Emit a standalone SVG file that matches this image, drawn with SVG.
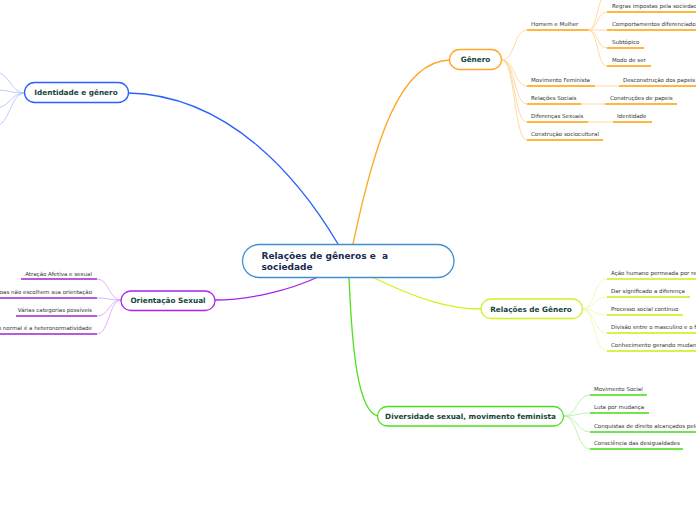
<svg xmlns="http://www.w3.org/2000/svg" width="696" height="520" viewBox="0 0 696 520">
<style>
text{font-family:"DejaVu Sans",Verdana,sans-serif}
.n{fill:#fff;stroke-width:1.3}
.nt{font-size:7.3px;font-weight:bold;fill:#16463a;text-anchor:middle}
.ct{font-size:9px;font-weight:bold;fill:#1a2a50}
.t{font-size:5.5px;fill:#333}
.te{font-size:5.5px;fill:#333;text-anchor:end}
.c{fill:none;stroke-width:1.3}
.f{fill:none;stroke-width:0.8}
.u{fill:none;stroke-width:1.6}
.blue{stroke:#2962ff}.bl{stroke:#a9bfff}
.or{stroke:#ffa726}.ol{stroke:#ffd08a}.ou{stroke:#ffa000}
.pu{stroke:#aa22ee}.pl{stroke:#d9a0f8}.pw{stroke:#9c27d0}
.ye{stroke:#d4f01e}.yl{stroke:#ecf8a8}.yu{stroke:#ccee11}
.gr{stroke:#4ce01a}.gl{stroke:#aef098}.gu{stroke:#44dd11}
</style>
<g id="connectors">
<path class="c blue" d="M128,93 C230,95 300,180 338,244"/>
<path class="c or" d="M353,244 C375,140 400,61 450,60"/>
<path class="c pu" d="M318,277 C290,290 250,300 215,300"/>
<path class="c ye" d="M372,277 C420,300 450,309 481,309"/>
<path class="c gr" d="M349,277 C352,350 358,412 378,416"/>
<!-- Identidade children -->
<path class="f bl" d="M25,93 C10,93 10,72 -5,72"/>
<path class="f bl" d="M25,93 C10,93 10,90 -5,90"/>
<path class="f bl" d="M25,93 C10,93 10,108 -5,108"/>
<path class="f bl" d="M25,93 C10,93 10,126 -5,126"/>
<!-- Genero children -->
<path class="f ol" d="M502,60 C515,60 514,30 527,30"/>
<path class="f ol" d="M502,60 C515,60 514,86 527,86"/>
<path class="f ol" d="M502,60 C515,60 514,104 527,104"/>
<path class="f ol" d="M502,60 C515,60 514,122 527,122"/>
<path class="f ol" d="M502,60 C515,60 514,140 527,140"/>
<path class="f ol" d="M588,30 C598,30 597,-6 607,-6"/>
<path class="f ol" d="M588,30 C598,30 597,12 607,12"/>
<path class="f ol" d="M588,30 L607,30"/>
<path class="f ol" d="M588,30 C598,30 597,48 607,48"/>
<path class="f ol" d="M588,30 C598,30 597,66 607,66"/>
<path class="f ol" d="M595,86 L619,86"/>
<path class="f ol" d="M581,104 L605,104"/>
<path class="f ol" d="M588,122 L613,122"/>
<!-- Orientacao children -->
<path class="f pl" d="M121,300 C109,300 109,279 97,279"/>
<path class="f pl" d="M121,300 C109,300 109,298 97,298"/>
<path class="f pl" d="M121,300 C109,300 109,316 97,316"/>
<path class="f pl" d="M121,300 C109,300 109,334 97,334"/>
<!-- Relacoes de Genero children -->
<path class="f yl" d="M582,309 C595,309 594,279 607,279"/>
<path class="f yl" d="M582,309 C595,309 594,297 607,297"/>
<path class="f yl" d="M582,309 C595,309 594,315 607,315"/>
<path class="f yl" d="M582,309 C595,309 594,333 607,333"/>
<path class="f yl" d="M582,309 C595,309 594,351 607,351"/>
<!-- Diversidade children -->
<path class="f gl" d="M564,416 C577,416 577,395 590,395"/>
<path class="f gl" d="M564,416 C577,416 577,413 590,413"/>
<path class="f gl" d="M564,416 C577,416 577,432 590,432"/>
<path class="f gl" d="M564,416 C577,416 577,449 590,449"/>
</g>
<g id="center">
<rect class="n" x="242.5" y="244.5" width="211.5" height="33" rx="16.5" style="stroke:#3d8fd1"/>
<text class="ct" x="261.5" y="259" xml:space="preserve">Relações de gêneros e  a</text>
<text class="ct" x="261.5" y="269.5">sociedade</text>
</g>
<g id="identidade">
<rect class="n blue" x="24.5" y="82.5" width="104" height="20" rx="10"/>
<text class="nt" x="76" y="95.2">Identidade e gênero</text>
</g>
<g id="genero">
<rect class="n or" x="449.5" y="49.5" width="52" height="20" rx="10"/>
<text class="nt" x="475.5" y="62.2">Gênero</text>
</g>
<g id="genero-children">
<path class="u ou" d="M527,30 H588 M527,86 H595 M527,104 H581 M527,122 H588 M527,140 H603 M607,12 H700 M607,30 H700 M607,48 H644 M607,66 H651 M619,86 H700 M605,104 H677 M613,122 H652"/>
<text class="t" x="531" y="26">Homem e Mulher</text>
<text class="t" x="531" y="82">Movimento Feminista</text>
<text class="t" x="531" y="100">Relações Sociais</text>
<text class="t" x="531" y="118">Diferenças Sexuais</text>
<text class="t" x="531" y="136">Construção sociocultural</text>
<text class="t" x="612" y="8">Regras impostas pela sociedade</text>
<text class="t" x="612" y="26">Comportamentos diferenciados</text>
<text class="t" x="612" y="44">Subtópico</text>
<text class="t" x="612" y="62">Modo de ser</text>
<text class="t" x="623" y="82">Desconstrução dos papeis</text>
<text class="t" x="610" y="100">Construções de papeis</text>
<text class="t" x="617" y="118">Identidade</text>
</g>
<g id="orientacao">
<rect class="n pu" x="121" y="291" width="94" height="19.5" rx="9.75"/>
<text class="nt" x="168" y="303">Orientação Sexual</text>
</g>
<g id="orientacao-children">
<path class="u pw" d="M21,279 H97 M-5,298 H97 M16,316 H97 M-5,334 H97"/>
<text class="te" x="92" y="275.5">Atração Afetiva e sexual</text>
<text class="te" x="92" y="294">Pessoas não escolhem sua orientação</text>
<text class="te" x="92" y="312">Várias categorias possíveis</text>
<text class="te" x="92" y="330">Padrão normal é a heteronormatividade</text>
</g>
<g id="relacoes-genero">
<rect class="n ye" x="481" y="299" width="101.5" height="19.5" rx="9.75"/>
<text class="nt" x="531" y="311.5">Relações de Gênero</text>
</g>
<g id="relacoes-children">
<path class="u yu" d="M607,279 H700 M607,297 H690 M607,315 H683 M607,333 H700 M607,351 H700"/>
<text class="t" x="611" y="275">Ação humano permeada por relações</text>
<text class="t" x="611" y="293">Dar significado a diferença</text>
<text class="t" x="611" y="311">Processo social contínuo</text>
<text class="t" x="611" y="329">Divisão entre o masculino e o feminino</text>
<text class="t" x="611" y="347">Conhecimento gerando mudanças</text>
</g>
<g id="diversidade">
<rect class="n gr" x="377.5" y="406.5" width="186" height="19.5" rx="9.75"/>
<text class="nt" x="470.5" y="419">Diversidade sexual, movimento feminista</text>
</g>
<g id="diversidade-children">
<path class="u gu" d="M590,395 H647 M590,413 H649 M590,432 H700 M590,449 H683"/>
<text class="t" x="594" y="391">Movimento Social</text>
<text class="t" x="594" y="409">Luta por mudança</text>
<text class="t" x="594" y="428">Conquistas de direito alcançados pelo movimento</text>
<text class="t" x="594" y="445">Consciência das desigualdades</text>
</g>
</svg>
